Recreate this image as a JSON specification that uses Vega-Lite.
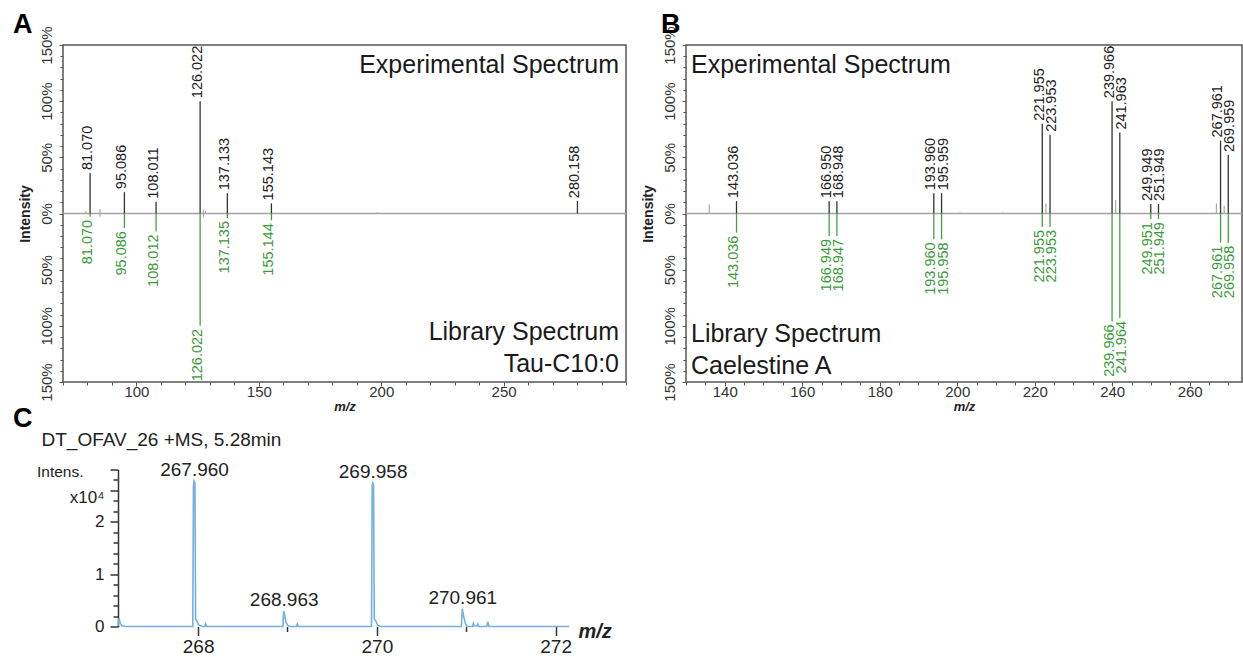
{
  "$schema": "https://vega.github.io/schema/vega-lite/v6.json",
  "autosize": {"type": "pad"},
  "padding": {"left": 12, "top": 10, "right": 0, "bottom": 0},
  "background": "white",
  "config": {
    "font": "Liberation Sans",
    "view": {"stroke": null},
    "axis": {"grid": false, "labelFont": "Liberation Sans", "titleFont": "Liberation Sans", "labelColor": "#333", "titleColor": "#222", "tickColor": "#555", "labelFlush": false, "labelOverlap": false},
    "title": {"font": "Liberation Sans", "color": "#000"},
    "text": {"font": "Liberation Sans"}
  },
  "datasets": {
    "expA": [
      {"mz": 81.070, "rel": 36}, {"mz": 95.086, "rel": 19}, {"mz": 108.011, "rel": 10.5},
      {"mz": 126.022, "rel": 100}, {"mz": 137.133, "rel": 18}, {"mz": 155.143, "rel": 9},
      {"mz": 280.158, "rel": 11}
    ],
    "libA": [
      {"mz": 81.070, "rel": -3}, {"mz": 95.086, "rel": -13}, {"mz": 108.012, "rel": -16},
      {"mz": 126.022, "rel": -100}, {"mz": 137.135, "rel": -4}, {"mz": 155.144, "rel": -6}
    ],
    "minorA": [
      {"mz": 79.3, "rel": 2}, {"mz": 85.1, "rel": 4}, {"mz": 85.1, "rel": -3},
      {"mz": 127.4, "rel": 3.5}, {"mz": 128.2, "rel": 2.5}, {"mz": 127.4, "rel": -3},
      {"mz": 198.5, "rel": 1}
    ],
    "expB": [
      {"mz": 143.036, "rel": 11, "isotope": "light"}, {"mz": 166.950, "rel": 11, "isotope": "light"},
      {"mz": 168.948, "rel": 11, "isotope": "heavy"}, {"mz": 193.960, "rel": 18, "isotope": "light"},
      {"mz": 195.959, "rel": 18, "isotope": "heavy"}, {"mz": 221.955, "rel": 80, "isotope": "light"},
      {"mz": 223.953, "rel": 70, "isotope": "heavy"}, {"mz": 239.966, "rel": 100, "isotope": "light"},
      {"mz": 241.963, "rel": 72, "isotope": "heavy"}, {"mz": 249.949, "rel": 8.5, "isotope": "light"},
      {"mz": 251.949, "rel": 8.5, "isotope": "heavy"}, {"mz": 267.961, "rel": 65, "isotope": "light"},
      {"mz": 269.959, "rel": 52, "isotope": "heavy"}
    ],
    "libB": [
      {"mz": 143.036, "rel": -17, "isotope": "light"}, {"mz": 166.949, "rel": -20, "isotope": "light"},
      {"mz": 168.947, "rel": -20, "isotope": "heavy"}, {"mz": 193.960, "rel": -23, "isotope": "light"},
      {"mz": 195.958, "rel": -23, "isotope": "heavy"}, {"mz": 221.955, "rel": -12, "isotope": "light"},
      {"mz": 223.953, "rel": -12, "isotope": "heavy"}, {"mz": 239.966, "rel": -96, "isotope": "light"},
      {"mz": 241.964, "rel": -93, "isotope": "heavy"}, {"mz": 249.951, "rel": -5, "isotope": "light"},
      {"mz": 251.949, "rel": -5, "isotope": "heavy"}, {"mz": 267.961, "rel": -26, "isotope": "light"},
      {"mz": 269.958, "rel": -26, "isotope": "heavy"}
    ],
    "minorB": [
      {"mz": 136.0, "rel": 8}, {"mz": 200.7, "rel": 0.8}, {"mz": 211.7, "rel": 0.8},
      {"mz": 222.9, "rel": 9}, {"mz": 240.9, "rel": 12}, {"mz": 266.9, "rel": 9},
      {"mz": 268.9, "rel": 7}
    ],
    "profileC": [
      {"mz": 267.104, "int": 0.01}, {"mz": 267.115, "int": 0.16}, {"mz": 267.13, "int": 0.06},
      {"mz": 267.15, "int": 0.01}, {"mz": 267.2, "int": 0.0}, {"mz": 267.94, "int": 0.0},
      {"mz": 267.948, "int": 2.7}, {"mz": 267.955, "int": 2.78}, {"mz": 267.964, "int": 2.74},
      {"mz": 267.972, "int": 0.14}, {"mz": 267.988, "int": 0.1}, {"mz": 268.005, "int": 0.03},
      {"mz": 268.05, "int": 0.0}, {"mz": 268.075, "int": 0.0}, {"mz": 268.085, "int": 0.05},
      {"mz": 268.095, "int": 0.0}, {"mz": 268.948, "int": 0.0}, {"mz": 268.958, "int": 0.3},
      {"mz": 268.968, "int": 0.22}, {"mz": 268.983, "int": 0.08}, {"mz": 269.003, "int": 0.02},
      {"mz": 269.03, "int": 0.0}, {"mz": 269.1, "int": 0.0}, {"mz": 269.11, "int": 0.05},
      {"mz": 269.12, "int": 0.0}, {"mz": 269.94, "int": 0.0}, {"mz": 269.948, "int": 2.7},
      {"mz": 269.955, "int": 2.74}, {"mz": 269.963, "int": 2.7}, {"mz": 269.971, "int": 0.14},
      {"mz": 269.99, "int": 0.1}, {"mz": 270.01, "int": 0.02}, {"mz": 270.05, "int": 0.0},
      {"mz": 270.945, "int": 0.0}, {"mz": 270.956, "int": 0.34}, {"mz": 270.968, "int": 0.22},
      {"mz": 270.988, "int": 0.07}, {"mz": 271.01, "int": 0.0}, {"mz": 271.07, "int": 0.0},
      {"mz": 271.08, "int": 0.06}, {"mz": 271.09, "int": 0.01}, {"mz": 271.12, "int": 0.01},
      {"mz": 271.13, "int": 0.05}, {"mz": 271.14, "int": 0.0}, {"mz": 271.23, "int": 0.0},
      {"mz": 271.24, "int": 0.09}, {"mz": 271.255, "int": 0.0}, {"mz": 272.15, "int": 0.0}
    ],
    "peaksC": [
      {"mz": 267.960, "int": 2.78}, {"mz": 268.963, "int": 0.30},
      {"mz": 269.958, "int": 2.74}, {"mz": 270.961, "int": 0.34}
    ]
  },
  "columns": 1,
  "spacing": -9.5,
  "concat": [
    {
      "spacing": 12,
      "hconcat": [
        {
          "width": 563,
          "height": 337,
          "view": {"stroke": "#555", "strokeWidth": 1.5},
          "title": {"text": "A", "anchor": "start", "frame": "group", "dx": -50, "offset": -34, "fontSize": 27, "fontWeight": "bold", "baseline": "alphabetic", "color": "#000"},
          "resolve": {"axis": {"x": "independent", "y": "independent"}},
          "layer": [
            {
              "data": {"values": [{}]},
              "mark": {"type": "rule", "color": "#a3a3a3", "strokeWidth": 1.5},
              "encoding": {"y": {"datum": 0, "type": "quantitative", "scale": {"domain": [-150, 150], "nice": false}, "axis": null}}
            },
            {
              "data": {"name": "minorA"},
              "mark": {"type": "rule", "color": "#a8a8a8", "strokeWidth": 1.2},
              "encoding": {
                "x": {"field": "mz", "type": "quantitative", "scale": {"domain": [70, 300], "nice": false, "zero": false},
                  "axis": {"orient": "bottom", "values": [70, 80, 90, 110, 120, 130, 140, 160, 170, 180, 190, 210, 220, 230, 240, 260, 270, 280, 290, 300],
                    "labels": false, "tickSize": 3, "domain": false, "title": null}},
                "y": {"field": "rel", "type": "quantitative", "scale": {"domain": [-150, 150], "nice": false},
                  "axis": {"orient": "left", "values": [-140, -130, -120, -110, -90, -80, -70, -60, -40, -30, -20, -10, 10, 20, 30, 40, 60, 70, 80, 90, 110, 120, 130, 140],
                    "labels": false, "tickSize": 3, "domain": false, "title": null}},
                "y2": {"datum": 0}
              }
            },
            {
              "data": {"name": "expA"},
              "mark": {"type": "rule", "color": "#333333", "strokeWidth": 1.3},
              "encoding": {
                "x": {"field": "mz", "type": "quantitative", "scale": {"domain": [70, 300], "nice": false, "zero": false},
                  "axis": {"orient": "bottom", "values": [100, 150, 200, 250], "tickSize": 4,
                    "labelOverlap": false, "labelFontSize": 15, "labelPadding": -2, "domain": false,
                    "title": "m/z", "titleFontSize": 13, "titleFontWeight": "bold", "titleFontStyle": "italic", "titlePadding": 1}},
                "y": {"field": "rel", "type": "quantitative", "scale": {"domain": [-150, 150], "nice": false},
                  "axis": {"orient": "left", "values": [-150, -100, -50, 0, 50, 100, 150],
                    "labelExpr": "abs(datum.value) + '%'", "tickSize": 4,
                    "labelOverlap": false, "labelAngle": 270, "labelAlign": "center", "labelBaseline": "bottom", "labelPadding": 5, "labelFontSize": 15,
                    "domain": false, "title": "Intensity", "titleFontSize": 14, "titleFontWeight": "bold", "titlePadding": 7}},
                "y2": {"datum": 0}
              }
            },
            {
              "data": {"name": "expA"},
              "mark": {"type": "text", "angle": 270, "align": "left", "baseline": "middle", "dx": 3, "dy": -2, "fontSize": 14.5, "color": "#222"},
              "encoding": {
                "x": {"field": "mz", "type": "quantitative", "scale": {"domain": [70, 300], "nice": false, "zero": false}, "axis": null},
                "y": {"field": "rel", "type": "quantitative", "scale": {"domain": [-150, 150], "nice": false}, "axis": null},
                "text": {"field": "mz", "type": "quantitative", "format": ".3f"}
              }
            },
            {
              "data": {"name": "libA"},
              "mark": {"type": "rule", "color": "#45a045", "strokeWidth": 1.3},
              "encoding": {
                "x": {"field": "mz", "type": "quantitative", "scale": {"domain": [70, 300], "nice": false, "zero": false}, "axis": null},
                "y": {"field": "rel", "type": "quantitative", "scale": {"domain": [-150, 150], "nice": false}, "axis": null},
                "y2": {"datum": 0}
              }
            },
            {
              "data": {"name": "libA"},
              "mark": {"type": "text", "angle": 270, "align": "right", "baseline": "middle", "dx": -3, "dy": -2, "fontSize": 14.5, "color": "#3b9b3b"},
              "encoding": {
                "x": {"field": "mz", "type": "quantitative", "scale": {"domain": [70, 300], "nice": false, "zero": false}, "axis": null},
                "y": {"field": "rel", "type": "quantitative", "scale": {"domain": [-150, 150], "nice": false}, "axis": null},
                "text": {"field": "mz", "type": "quantitative", "format": ".3f"}
              }
            },
            {
              "data": {"values": [{"note": "Experimental Spectrum"}]},
              "mark": {"type": "text", "align": "right", "baseline": "alphabetic", "dx": -7, "dy": 27.5, "fontSize": 25, "color": "#1a1a1a"},
              "encoding": {
                "x": {"datum": 300, "type": "quantitative", "scale": {"domain": [70, 300], "nice": false, "zero": false}, "axis": null},
                "y": {"datum": 150, "type": "quantitative", "scale": {"domain": [-150, 150], "nice": false}, "axis": null},
                "text": {"field": "note"}
              }
            },
            {
              "data": {"values": [{"note": "Library Spectrum\nTau-C10:0"}]},
              "mark": {"type": "text", "align": "right", "baseline": "alphabetic", "lineBreak": "\n", "lineHeight": 32, "dx": -7, "dy": -42, "fontSize": 25, "color": "#1a1a1a"},
              "encoding": {
                "x": {"datum": 300, "type": "quantitative", "scale": {"domain": [70, 300], "nice": false, "zero": false}, "axis": null},
                "y": {"datum": -150, "type": "quantitative", "scale": {"domain": [-150, 150], "nice": false}, "axis": null},
                "text": {"field": "note"}
              }
            }
          ]
        },
        {
          "width": 556,
          "height": 337,
          "view": {"stroke": "#555", "strokeWidth": 1.5},
          "title": {"text": "B", "anchor": "start", "frame": "group", "dx": -25, "offset": -34, "fontSize": 27, "fontWeight": "bold", "baseline": "alphabetic", "color": "#000"},
          "resolve": {"axis": {"x": "independent", "y": "independent"}},
          "layer": [
            {
              "data": {"values": [{}]},
              "mark": {"type": "rule", "color": "#a3a3a3", "strokeWidth": 1.5},
              "encoding": {"y": {"datum": 0, "type": "quantitative", "scale": {"domain": [-150, 150], "nice": false}, "axis": null}}
            },
            {
              "data": {"name": "minorB"},
              "mark": {"type": "rule", "color": "#a8a8a8", "strokeWidth": 1.2},
              "encoding": {
                "x": {"field": "mz", "type": "quantitative", "scale": {"domain": [130, 273.5], "nice": false, "zero": false},
                  "axis": {"orient": "bottom", "values": [130, 135, 145, 150, 155, 165, 170, 175, 185, 190, 195, 205, 210, 215, 225, 230, 235, 245, 250, 255, 265, 270],
                    "labels": false, "tickSize": 3, "domain": false, "title": null}},
                "y": {"field": "rel", "type": "quantitative", "scale": {"domain": [-150, 150], "nice": false},
                  "axis": {"orient": "left", "values": [-140, -130, -120, -110, -90, -80, -70, -60, -40, -30, -20, -10, 10, 20, 30, 40, 60, 70, 80, 90, 110, 120, 130, 140],
                    "labels": false, "tickSize": 3, "domain": false, "title": null}},
                "y2": {"datum": 0}
              }
            },
            {
              "data": {"name": "expB"},
              "mark": {"type": "rule", "color": "#333333", "strokeWidth": 1.3},
              "encoding": {
                "x": {"field": "mz", "type": "quantitative", "scale": {"domain": [130, 273.5], "nice": false, "zero": false},
                  "axis": {"orient": "bottom", "values": [140, 160, 180, 200, 220, 240, 260], "tickSize": 4,
                    "labelOverlap": false, "labelFontSize": 15, "labelPadding": -2, "domain": false,
                    "title": "m/z", "titleFontSize": 13, "titleFontWeight": "bold", "titleFontStyle": "italic", "titlePadding": 1}},
                "y": {"field": "rel", "type": "quantitative", "scale": {"domain": [-150, 150], "nice": false},
                  "axis": {"orient": "left", "values": [-150, -100, -50, 0, 50, 100, 150],
                    "labelExpr": "abs(datum.value) + '%'", "tickSize": 4,
                    "labelOverlap": false, "labelAngle": 270, "labelAlign": "center", "labelBaseline": "bottom", "labelPadding": 5, "labelFontSize": 15,
                    "domain": false, "title": "Intensity", "titleFontSize": 14, "titleFontWeight": "bold", "titlePadding": 7}},
                "y2": {"datum": 0}
              }
            },
            {
              "data": {"name": "expB"},
              "transform": [{"filter": "datum.isotope === 'light'"}],
              "mark": {"type": "text", "angle": 270, "align": "left", "baseline": "middle", "dx": 3, "dy": -2.5, "fontSize": 14.5, "color": "#222"},
              "encoding": {
                "x": {"field": "mz", "type": "quantitative", "scale": {"domain": [130, 273.5], "nice": false, "zero": false}, "axis": null},
                "y": {"field": "rel", "type": "quantitative", "scale": {"domain": [-150, 150], "nice": false}, "axis": null},
                "text": {"field": "mz", "type": "quantitative", "format": ".3f"}
              }
            },
            {
              "data": {"name": "expB"},
              "transform": [{"filter": "datum.isotope === 'heavy'"}],
              "mark": {"type": "text", "angle": 270, "align": "left", "baseline": "middle", "dx": 3, "dy": 2, "fontSize": 14.5, "color": "#222"},
              "encoding": {
                "x": {"field": "mz", "type": "quantitative", "scale": {"domain": [130, 273.5], "nice": false, "zero": false}, "axis": null},
                "y": {"field": "rel", "type": "quantitative", "scale": {"domain": [-150, 150], "nice": false}, "axis": null},
                "text": {"field": "mz", "type": "quantitative", "format": ".3f"}
              }
            },
            {
              "data": {"name": "libB"},
              "mark": {"type": "rule", "color": "#45a045", "strokeWidth": 1.3},
              "encoding": {
                "x": {"field": "mz", "type": "quantitative", "scale": {"domain": [130, 273.5], "nice": false, "zero": false}, "axis": null},
                "y": {"field": "rel", "type": "quantitative", "scale": {"domain": [-150, 150], "nice": false}, "axis": null},
                "y2": {"datum": 0}
              }
            },
            {
              "data": {"name": "libB"},
              "transform": [{"filter": "datum.isotope === 'light'"}],
              "mark": {"type": "text", "angle": 270, "align": "right", "baseline": "middle", "dx": -3, "dy": -2.5, "fontSize": 14.5, "color": "#3b9b3b"},
              "encoding": {
                "x": {"field": "mz", "type": "quantitative", "scale": {"domain": [130, 273.5], "nice": false, "zero": false}, "axis": null},
                "y": {"field": "rel", "type": "quantitative", "scale": {"domain": [-150, 150], "nice": false}, "axis": null},
                "text": {"field": "mz", "type": "quantitative", "format": ".3f"}
              }
            },
            {
              "data": {"name": "libB"},
              "transform": [{"filter": "datum.isotope === 'heavy'"}],
              "mark": {"type": "text", "angle": 270, "align": "right", "baseline": "middle", "dx": -3, "dy": 2, "fontSize": 14.5, "color": "#3b9b3b"},
              "encoding": {
                "x": {"field": "mz", "type": "quantitative", "scale": {"domain": [130, 273.5], "nice": false, "zero": false}, "axis": null},
                "y": {"field": "rel", "type": "quantitative", "scale": {"domain": [-150, 150], "nice": false}, "axis": null},
                "text": {"field": "mz", "type": "quantitative", "format": ".3f"}
              }
            },
            {
              "data": {"values": [{"note": "Experimental Spectrum"}]},
              "mark": {"type": "text", "align": "left", "baseline": "alphabetic", "dx": 5, "dy": 27.5, "fontSize": 25, "color": "#1a1a1a"},
              "encoding": {
                "x": {"datum": 130, "type": "quantitative", "scale": {"domain": [130, 273.5], "nice": false, "zero": false}, "axis": null},
                "y": {"datum": 150, "type": "quantitative", "scale": {"domain": [-150, 150], "nice": false}, "axis": null},
                "text": {"field": "note"}
              }
            },
            {
              "data": {"values": [{"note": "Library Spectrum\nCaelestine A"}]},
              "mark": {"type": "text", "align": "left", "baseline": "alphabetic", "lineBreak": "\n", "lineHeight": 32, "dx": 5, "dy": -40, "fontSize": 25, "color": "#1a1a1a"},
              "encoding": {
                "x": {"datum": 130, "type": "quantitative", "scale": {"domain": [130, 273.5], "nice": false, "zero": false}, "axis": null},
                "y": {"datum": -150, "type": "quantitative", "scale": {"domain": [-150, 150], "nice": false}, "axis": null},
                "text": {"field": "note"}
              }
            }
          ]
        }
      ]
    },
    {
      "width": 506,
      "height": 157,
      "title": {"text": "C", "anchor": "start", "frame": "group", "dx": -50, "offset": -23.5, "fontSize": 27, "fontWeight": "bold", "baseline": "alphabetic", "color": "#000"},
      "resolve": {"axis": {"x": "independent", "y": "independent"}},
      "layer": [
        {
          "data": {"name": "profileC"},
          "mark": {"type": "line", "color": "#72b0e0", "strokeWidth": 1.6, "interpolate": "linear"},
          "encoding": {
            "x": {"field": "mz", "type": "quantitative", "scale": {"domain": [266.488, 272.15], "nice": false, "zero": false},
              "axis": {"orient": "bottom", "values": [268, 269, 270, 271, 272],
                "labelExpr": "datum.value % 2 === 0 ? datum.label : ''",
                "tickSize": {"condition": {"test": "datum.value % 2 === 0", "value": 9}, "value": 5},
                "labelOverlap": false, "tickWidth": 1.5, "tickColor": "#333", "labelFontSize": 19, "labelPadding": 2, "labelColor": "#222", "domain": false,
                "title": "m/z", "titleFontSize": 20, "titleFontWeight": "bold", "titleFontStyle": "italic",
                "titleX": 515, "titleY": 11, "titleAlign": "left", "titleAnchor": "start", "titleBaseline": "alphabetic"}},
            "y": {"field": "int", "type": "quantitative", "scale": {"domain": [0, 3], "nice": false},
              "axis": {"orient": "left", "offset": -55, "values": [0, 1, 2, 2.6, 3],
                "labelExpr": "datum.value === 3 ? '' : datum.value === 2.6 ? 'x10⁴' : format(datum.value, 'd')",
                "tickSize": 8, "labelPadding": 6,
                "labelOffset": {"condition": {"test": "datum.value === 2.6", "value": 7}, "value": 0},
                "labelOverlap": false, "tickWidth": 1.5, "tickColor": "#333", "domainColor": "#333", "domainWidth": 1.5,
                "labelFontSize": 17, "labelColor": "#222",
                "title": "Intens.", "titleAngle": 0, "titleAlign": "right", "titleBaseline": "alphabetic",
                "titleX": -35, "titleY": 6.5, "titleFontSize": 15.5, "titleFontWeight": "normal", "titleColor": "#222"}}
          }
        },
        {
          "data": {"name": "peaksC"},
          "mark": {"type": "text", "align": "center", "baseline": "alphabetic", "dy": -5, "fontSize": 19, "color": "#222"},
          "encoding": {
            "x": {"field": "mz", "type": "quantitative", "scale": {"domain": [266.488, 272.15], "nice": false, "zero": false},
              "axis": {"orient": "top", "labels": false, "ticks": false, "domain": false,
                "title": "DT_OFAV_26 +MS, 5.28min", "titleFontSize": 19, "titleFontWeight": "normal", "titleColor": "#222",
                "titleX": -22, "titleY": -24.5, "titleAlign": "left", "titleAnchor": "start", "titleBaseline": "alphabetic"}},
            "y": {"field": "int", "type": "quantitative", "scale": {"domain": [0, 3], "nice": false},
              "axis": {"orient": "left", "offset": -55, "values": [0.2, 0.4, 0.6, 0.8, 1.2, 1.4, 1.6, 1.8, 2.2, 2.4, 2.8],
                "labels": false, "tickSize": 5, "tickWidth": 1.5, "tickColor": "#333", "domain": false, "title": null}},
            "text": {"field": "mz", "type": "quantitative", "format": ".3f"}
          }
        }
      ]
    }
  ]
}
